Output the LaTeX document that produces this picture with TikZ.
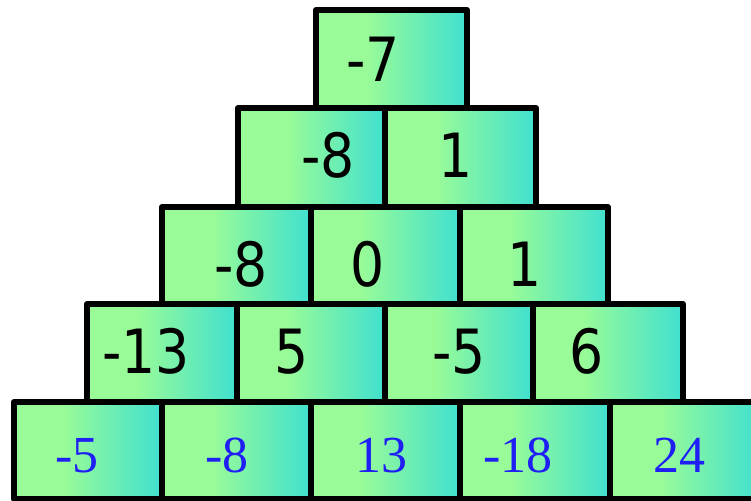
\documentclass[tikz,border=0pt]{standalone}
\usepackage{fontspec}
\newfontfamily\numfont[FakeStretch=0.88]{DejaVu Sans}
\newfontfamily\bluefont{Liberation Serif}
\definecolor{pg}{HTML}{98FB98}
\definecolor{tq}{HTML}{40E0D0}
\definecolor{numblue}{HTML}{1E1EF5}
\pgfdeclarehorizontalshading{boxshade}{100bp}{color(0bp)=(pg); color(42bp)=(pg); color(75bp)=(tq); color(100bp)=(tq)}
\tikzset{
  cell/.style={draw=black, line width=6pt, line join=round, shade, shading=boxshade, shading angle=0, inner sep=0pt, outer sep=0pt},
  blk/.style={anchor=base, inner sep=0pt, text=black, font=\numfont\fontsize{61}{61}\selectfont},
  blu/.style={anchor=base, inner sep=0pt, text=numblue, font=\bluefont\fontsize{52}{52}\selectfont}
}
\newcommand\pcell[5]{\node[cell, minimum width={(#4)-(#2)}, minimum height={(#5)-(#3)}] (#1) at ({((#2)+(#4))/2},{((#3)+(#5))/2}) {};}
\begin{document}
\begin{tikzpicture}[x=1pt,y=-1pt]
\useasboundingbox (0,0) rectangle (751,500);
\begin{scope}
\clip (0,0) rectangle (751,500);
% row 5
\pcell{e1}{14}{402}{162}{499}
\pcell{e2}{162}{402}{311}{499}
\pcell{e3}{311}{402}{460}{499}
\pcell{e4}{460}{402}{610}{499}
\pcell{e5}{610}{402}{760}{499}
% row 4
\pcell{d1}{87}{304}{237}{402}
\pcell{d2}{237}{304}{385}{402}
\pcell{d3}{385}{304}{533}{402}
\pcell{d4}{533}{304}{683}{402}
% row 3
\pcell{c1}{162}{207}{311}{304}
\pcell{c2}{311}{207}{460}{304}
\pcell{c3}{460}{207}{608}{304}
% row 2
\pcell{b1}{238}{108}{385}{207}
\pcell{b2}{385}{108}{536}{207}
% row 1
\pcell{a1}{316}{10}{467}{108}
\end{scope}
% texts
\node[blk] (ta1) at (373,82) {-7};
\node[blk] (tb1) at (328,177) {-8};
\node[blk] (tb2) at (456,177) {1};
\node[blk] (tc1) at (241,286) {-8};
\node[blk] (tc2) at (368,286) {0};
\node[blk] (tc3) at (525,286) {1};
\node[blk] (td1) at (146,373) {-13};
\node[blk] (td2) at (292,373) {5};
\node[blk] (td3) at (459,373) {-5};
\node[blk] (td4) at (587,373) {6};
\node[blu] (te1) at (77,472) {-5};
\node[blu] (te2) at (227,472) {-8};
\node[blu] (te3) at (381,472) {13};
\node[blu] (te4) at (518,472) {-18};
\node[blu] (te5) at (679,472) {24};
\end{tikzpicture}
\end{document}
